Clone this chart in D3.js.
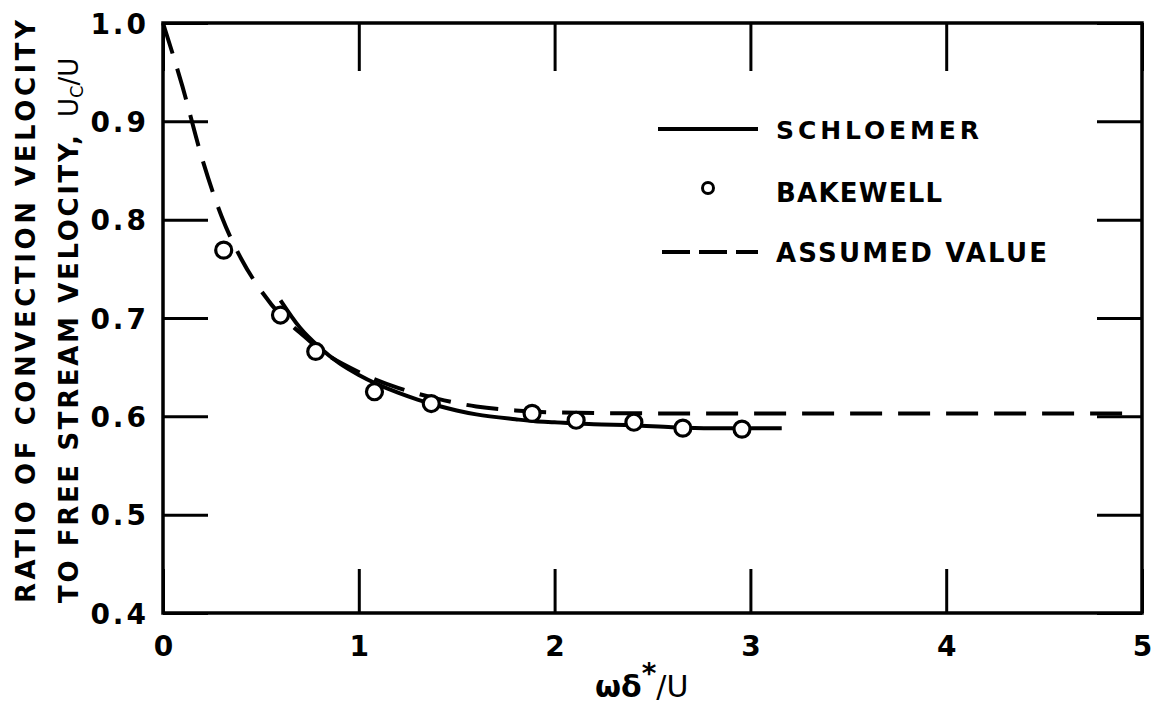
<!DOCTYPE html>
<html><head><meta charset="utf-8">
<script src="https://cdn.jsdelivr.net/npm/d3@7"></script>
<style>
html,body{margin:0;padding:0;background:#fff;}
svg text{font-family:"DejaVu Sans","Liberation Sans",Arial,sans-serif;font-weight:bold;fill:#000;}
</style></head>
<body>
<svg id="chart" width="1161" height="705"></svg>
<script>
// ---- data ----
const xTicks = [0, 1, 2, 3, 4, 5];
const yTicks = [0.4, 0.5, 0.6, 0.7, 0.8, 0.9, 1.0];
const yTickLabels = ["0.4", "0.5", "0.6", "0.7", "0.8", "0.9", "1.0"];

const bakewellX = [0.31, 0.60, 0.78, 1.08, 1.37, 1.885, 2.11, 2.405, 2.655, 2.957];
const bakewellY = [0.769, 0.703, 0.666, 0.625, 0.613, 0.603, 0.596, 0.594, 0.588, 0.587];

const schloemerX = [0.6, 0.7, 0.8, 0.9, 1.0, 1.2, 1.3, 1.4, 1.5, 1.6, 1.8, 1.9, 2.0, 2.2, 2.4, 2.6, 2.8, 3.0, 3.16];
const schloemerY = [0.718, 0.690, 0.670, 0.654, 0.642, 0.624, 0.617, 0.611, 0.606, 0.602, 0.597, 0.595, 0.594, 0.592, 0.591, 0.589, 0.588, 0.588, 0.588];

const assumedX = [0, 0.1, 0.2, 0.3, 0.4, 0.5, 0.6, 0.7, 0.8, 1.0, 1.2, 1.4, 1.6, 1.8, 2.0, 2.5, 3.0, 4.0, 4.9];
const assumedY = [1.0, 0.935, 0.862, 0.803, 0.760, 0.728, 0.703, 0.685, 0.668, 0.645, 0.629, 0.618, 0.610, 0.606, 0.604, 0.603, 0.603, 0.603, 0.603];

const legendLabels = ["SCHLOEMER", "BAKEWELL", "ASSUMED VALUE"];

// ---- layout ----
const svg = d3.select("#chart");
const L = 163, R = 1142, T = 23, B = 613;
const x = d3.scaleLinear().domain([0, 5]).range([L, R]);
const y = d3.scaleLinear().domain([0.4, 1.0]).range([B, T]);

// frame
svg.append("rect").attr("x", L).attr("y", T).attr("width", R - L).attr("height", B - T)
  .attr("fill", "none").attr("stroke", "#000").attr("stroke-width", 3.5);

// bottom axis (ticks pointing up)
const gB = svg.append("g").attr("transform", `translate(0,${B})`)
  .call(d3.axisBottom(x).tickValues(xTicks).tickSize(-44).tickPadding(23).tickFormat(d3.format("d")));
// top axis ticks (pointing down)
const gT = svg.append("g").attr("transform", `translate(0,${T})`)
  .call(d3.axisTop(x).tickValues(xTicks).tickSize(-48).tickFormat(""));
// left axis
const gL = svg.append("g").attr("transform", `translate(${L},0)`)
  .call(d3.axisLeft(y).tickValues(yTicks).tickSize(-45).tickPadding(14)
    .tickFormat((d, i) => yTickLabels[i]));
// right axis ticks
const gR = svg.append("g").attr("transform", `translate(${R},0)`)
  .call(d3.axisRight(y).tickValues(yTicks).tickSize(-45).tickFormat(""));

[gB, gT, gL, gR].forEach(g => {
  g.select(".domain").remove();
  g.selectAll(".tick line").attr("stroke", "#000").attr("stroke-width", 3);
  g.selectAll(".tick text").style("font-size", "28px").attr("font-family", null).attr("fill", "#000");
});
gB.selectAll(".tick text").attr("dy", "0.71em");
gL.selectAll(".tick text").style("letter-spacing", "3px").attr("dy", "0.36em");

// curves
const line = d3.line().x(d => x(d[0])).y(d => y(d[1])).curve(d3.curveMonotoneX);
const assumed = assumedX.map((v, i) => [v, assumedY[i]]);
const schloemer = schloemerX.map((v, i) => [v, schloemerY[i]]);

svg.append("path").datum(assumed).attr("d", line)
  .attr("fill", "none").attr("stroke", "#000").attr("stroke-width", 4)
  .attr("stroke-dasharray", "32,16");
svg.append("path").datum(schloemer).attr("d", line)
  .attr("fill", "none").attr("stroke", "#000").attr("stroke-width", 4);

// Bakewell circles
svg.append("g").selectAll("circle").data(bakewellX).join("circle")
  .attr("cx", d => x(d)).attr("cy", (d, i) => y(bakewellY[i])).attr("r", 8)
  .attr("fill", "#fff").attr("stroke", "#000").attr("stroke-width", 3.2);

// legend
const lg = svg.append("g");
lg.append("line").attr("x1", 658).attr("x2", 758).attr("y1", 129).attr("y2", 129)
  .attr("stroke", "#000").attr("stroke-width", 4);
lg.append("circle").attr("cx", 708).attr("cy", 188).attr("r", 5.5)
  .attr("fill", "#fff").attr("stroke", "#000").attr("stroke-width", 3);
lg.append("line").attr("x1", 662).attr("x2", 758).attr("y1", 252).attr("y2", 252)
  .attr("stroke", "#000").attr("stroke-width", 4).attr("stroke-dasharray", "28,9");
const legY = [139, 202, 262];
const legLen = [203, 166, 271];
const legSize = [25, 26, 26];
lg.selectAll("text.leg").data(legendLabels).join("text").attr("class", "leg")
  .attr("x", 776).attr("y", (d, i) => legY[i])
  .attr("textLength", (d, i) => legLen[i]).attr("lengthAdjust", "spacing")
  .style("font-size", (d, i) => legSize[i] + "px").text(d => d);

// x axis title  ωδ*/U
const xt = svg.append("text").attr("x", 595).attr("y", 697).style("font-size", "30px")
  .style("font-weight", "normal");
xt.append("tspan").style("font-weight", "bold").text("ωδ");
xt.append("tspan").attr("dy", -14).style("font-size", "28px").style("font-weight", "bold").text("*");
xt.append("tspan").attr("dy", 14).text("/U");

// y axis title (two rotated lines)
svg.append("text").attr("transform", "translate(35,603) rotate(-90)")
  .attr("textLength", 583).attr("lengthAdjust", "spacing")
  .style("font-size", "26px").text("RATIO OF CONVECTION VELOCITY");
svg.append("text").attr("transform", "translate(78,603) rotate(-90)")
  .attr("textLength", 468).attr("lengthAdjust", "spacing")
  .style("font-size", "26px").text("TO FREE STREAM VELOCITY,");
const uc = svg.append("text").attr("transform", "translate(78,117) rotate(-90)")
  .style("font-size", "26px").style("font-weight", "normal");
uc.append("tspan").text("U");
uc.append("tspan").attr("dy", 5).style("font-size", "18px").text("C");
uc.append("tspan").attr("dy", -5).text("/U");
</script>
</body></html>
